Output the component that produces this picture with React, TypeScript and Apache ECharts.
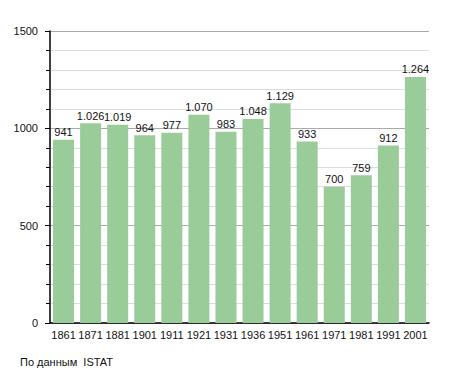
import React, { useEffect, useRef } from "react";
import * as echarts from "echarts";

const categories = ["1861", "1871", "1881", "1901", "1911", "1921", "1931", "1936", "1951", "1961", "1971", "1981", "1991", "2001"];
const population = [941, 1026, 1019, 964, 977, 1070, 983, 1048, 1129, 933, 700, 759, 912, 1264];
const yTicks = [0, 500, 1000, 1500];
const sourceNote = "По данным  ISTAT";

const fmt = (v: number) => {
  const s = String(Math.round(v));
  return s.replace(/\B(?=(\d{3})+(?!\d))/g, ".");
};

export default function App() {
  const ref = useRef<HTMLDivElement>(null);
  useEffect(() => {
    if (!ref.current) return;
    const chart = echarts.init(ref.current, undefined, { renderer: "svg" });
    const font = "'Liberation Sans', Arial, sans-serif";
    chart.setOption({
      animation: false,
      backgroundColor: "#ffffff",
      grid: { left: 50, top: 31, right: 26, bottom: 50, containLabel: false },
      xAxis: {
        type: "category",
        data: categories,
        axisLine: { show: true, lineStyle: { color: "#000", width: 1.5 } },
        axisTick: { show: false },
        axisLabel: { color: "#111", fontFamily: font, fontSize: 11, margin: 6, interval: 0 },
      },
      yAxis: {
        type: "value",
        min: yTicks[0],
        max: yTicks[yTicks.length - 1],
        interval: 500,
        axisLine: { show: true, lineStyle: { color: "#000", width: 1.5 } },
        axisTick: { show: true, length: 5, lineStyle: { color: "#000" } },
        minorTick: { show: true, splitNumber: 5, length: 4, lineStyle: { color: "#000" } },
        splitLine: { show: true, lineStyle: { color: "#aaaaaa", width: 1 } },
        minorSplitLine: { show: true, lineStyle: { color: "#dddddd", width: 1 } },
        axisLabel: { color: "#111", fontFamily: font, fontSize: 11, margin: 12, formatter: (v: number) => String(v) },
      },
      series: [
        {
          type: "bar",
          data: population,
          barWidth: 21,
          itemStyle: { color: "#99cc99" },
          label: {
            show: true,
            position: "top",
            distance: 2,
            color: "#111",
            fontFamily: font,
            fontSize: 11,
            formatter: (p: any) => fmt(p.value),
          },
        },
      ],
      graphic: [
        {
          type: "text",
          left: 20,
          top: 356,
          style: { text: sourceNote, fill: "#111", font: `11px ${font}` },
        },
      ],
    });
    return () => chart.dispose();
  }, []);
  return <div ref={ref} style={{ width: 455, height: 373, position: "absolute", left: 0, top: 0 }} />;
}
